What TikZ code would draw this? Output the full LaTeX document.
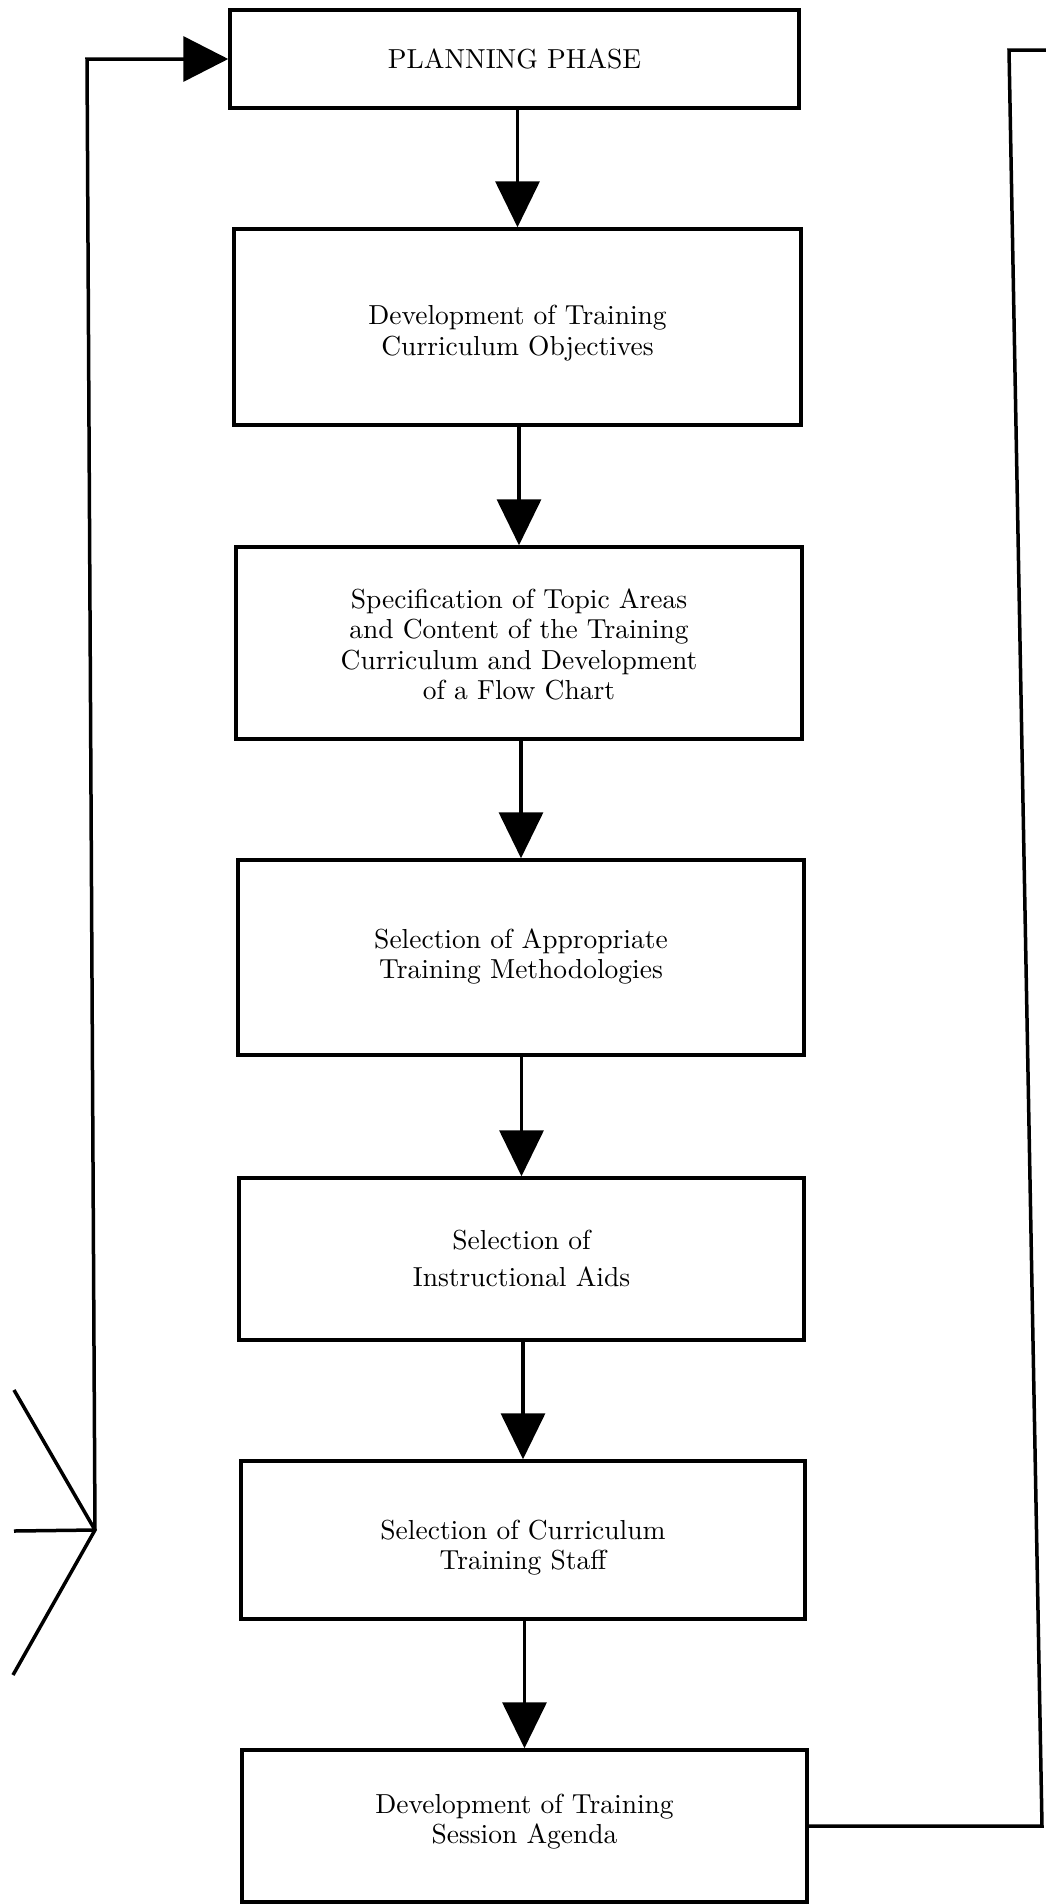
\documentclass[tikz,border=0pt]{standalone}
\usepackage{graphicx}
\usetikzlibrary{arrows.meta}
% stage labels: 10pt design size, enlarged to keep its stroke weight;
% the optional argument nudges the lines up or down inside the box
\newcommand\stagetext[2][0pt]{\raisebox{#1}[\height][\depth]{\scalebox{2.75}{\renewcommand\arraystretch{0.925}\begin{tabular}{@{}c@{}}#2\end{tabular}}}}
\begin{document}
\begin{tikzpicture}[x=1pt,y=-1pt,
  stage/.style={draw, line width=3.5pt, rectangle, align=center, inner sep=0pt},
  flow/.style={line width=3.5pt, -{Triangle[length=46pt,width=44pt]}},
  loopline/.style={line width=3.5pt}]
\useasboundingbox (0,0) rectangle (1046,1904);

% the seven stages of the planning phase
\node[stage, minimum width=569pt, minimum height=98pt]  (b1) at (514.5,59)   {\stagetext[-3.6pt]{PLANNING PHASE}};
\node[stage, minimum width=567pt, minimum height=196pt] (b2) at (517.5,327)  {\stagetext[-7pt]{Development of Training\\Curriculum Objectives}};
\node[stage, minimum width=566pt, minimum height=192pt] (b3) at (519,643)    {\stagetext[-4.8pt]{Specification of Topic Areas\\and Content of the Training\\Curriculum and Development\\of a Flow Chart}};
\node[stage, minimum width=566pt, minimum height=195pt] (b4) at (521,957.5)  {\stagetext{Selection of Appropriate\\Training Methodologies}};
\node[stage, minimum width=565pt, minimum height=162pt] (b5) at (521.5,1259) {\stagetext[-3pt]{Selection of\\[2.5pt]Instructional Aids}};
\node[stage, minimum width=564pt, minimum height=158pt] (b6) at (523,1540)   {\stagetext[-8.5pt]{Selection of Curriculum\\Training Staff}};
\node[stage, minimum width=565pt, minimum height=152pt] (b7) at (524.5,1826) {\stagetext[3.6pt]{Development of Training\\Session Agenda}};

% downward flow
\draw[flow] (b1.south -| b2.north) -- (b2.north);
\draw[flow] (b2.south -| b3.north) -- (b3.north);
\draw[flow] (b3.south -| b4.north) -- (b4.north);
\draw[flow] (b4.south -| b5.north) -- (b5.north);
\draw[flow] (b5.south -| b6.north) -- (b6.north);
\draw[flow] (b6.south -| b7.north) -- (b7.north);

% feedback loop on the left, entering the planning phase
\coordinate (lj) at (95,1530);
\coordinate (lc) at (87,59);
\coordinate (bt) at (14,1390);
\coordinate (bb) at (13,1675);
\coordinate (bh) at (14,1531);
\draw[line width=3.5pt, -{Triangle[length=45pt,width=45pt]}] (lj) -- (lc) -- (b1.west);
\draw[loopline] (bt) -- (lj) -- (bb);
\draw[loopline] (bh) -- (lj);

% return line on the right, leaving the agenda stage
\coordinate (rb) at (1042,1826);
\coordinate (rt) at (1009,50);
\coordinate (re) at (1046,50);
\draw[loopline] (b7.east) -- (rb) -- (rt) -- (re);
\end{tikzpicture}
\end{document}
